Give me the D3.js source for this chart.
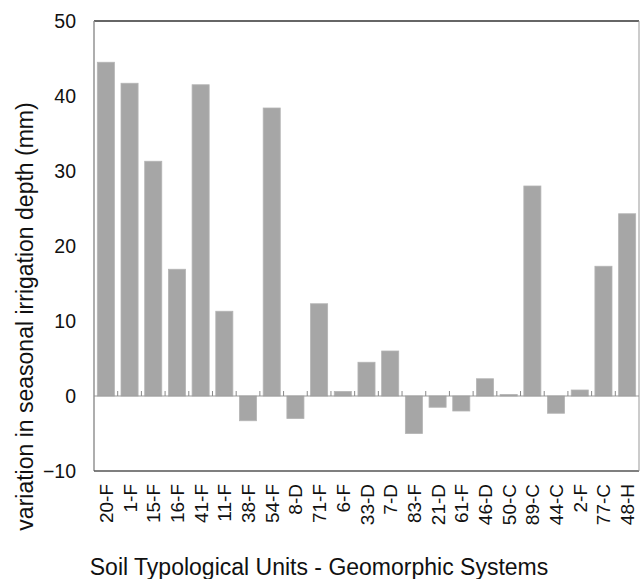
<!DOCTYPE html>
<html>
<head>
<meta charset="utf-8">
<script src="https://cdn.jsdelivr.net/npm/d3@7"></script>
<style>
  html, body { margin: 0; padding: 0; background: #fff; }
  svg { display: block; font-family: "Liberation Sans", Arial, sans-serif; }
</style>
</head>
<body>
<svg id="chart" width="640" height="579"></svg>
<script>
// Soil typological unit / geomorphic system codes
const categories = ["20-F","1-F","15-F","16-F","41-F","11-F","38-F","54-F","8-D","71-F","6-F","33-D","7-D","83-F","21-D","61-F","46-D","50-C","89-C","44-C","2-F","77-C","48-H"];
// Variation in seasonal irrigation depth (mm)
const values = [44.5, 41.7, 31.3, 16.9, 41.5, 11.3, -3.3, 38.4, -3.0, 12.3, 0.6, 4.5, 6.0, -5.0, -1.5, -2.0, 2.3, 0.2, 28.0, -2.3, 0.8, 17.3, 24.3];
const yTicks = [-10, 0, 10, 20, 30, 40, 50];

const svg = d3.select("#chart");
const plotL = 94, plotR = 639, plotT = 21, plotB = 471;

const x = d3.scaleBand().domain(categories).range([plotL, plotR]).paddingInner(0.28).paddingOuter(0.14);
const y = d3.scaleLinear().domain([-10, 50]).range([plotB, plotT]);

// bars
svg.append("g").selectAll("rect").data(values).join("rect")
  .attr("x", (d, i) => x(categories[i]))
  .attr("width", x.bandwidth())
  .attr("y", d => y(Math.max(0, d)))
  .attr("height", d => Math.abs(y(d) - y(0)))
  .attr("fill", "#a6a6a6")
  .attr("stroke", "#b4b4b4")
  .attr("stroke-width", 0.8);

// zero axis with category boundary ticks
const bounds = d3.range(categories.length + 1).map(i => plotL + i * (plotR - plotL) / categories.length);
svg.append("line")
  .attr("x1", plotL).attr("x2", plotR)
  .attr("y1", y(0)).attr("y2", y(0))
  .attr("stroke", "#9a9a9a").attr("stroke-width", 1.2);
svg.append("g").selectAll("line").data(bounds.slice(1, -1)).join("line")
  .attr("x1", d => d).attr("x2", d => d)
  .attr("y1", y(0) - 5).attr("y2", y(0))
  .attr("stroke", "#8a8a8a").attr("stroke-width", 1);

// frame
svg.append("line").attr("x1", plotL).attr("x2", plotR).attr("y1", plotT).attr("y2", plotT)
  .attr("stroke", "#333").attr("stroke-width", 1.6);
svg.append("line").attr("x1", plotL).attr("x2", plotL).attr("y1", plotT).attr("y2", plotB)
  .attr("stroke", "#8c8c8c").attr("stroke-width", 1.4);
svg.append("line").attr("x1", plotL).attr("x2", plotR).attr("y1", plotB).attr("y2", plotB)
  .attr("stroke", "#555").attr("stroke-width", 1.6);
svg.append("line").attr("x1", plotR).attr("x2", plotR).attr("y1", plotT).attr("y2", plotB)
  .attr("stroke", "#999").attr("stroke-width", 1);

// y tick labels
const yAxis = svg.append("g").attr("transform", `translate(${plotL},0)`)
  .call(d3.axisLeft(y).tickValues(yTicks).tickSize(0).tickPadding(18));
yAxis.select(".domain").remove();
yAxis.selectAll("text").attr("font-size", 19.5).attr("fill", "#111").attr("font-family", "Liberation Sans, Arial, sans-serif");

// x tick labels (rotated)
svg.append("g").selectAll("text").data(categories).join("text")
  .attr("transform", d => `translate(${x(d) + x.bandwidth() / 2 + 7},${plotB + 13}) rotate(-90)`)
  .attr("text-anchor", "end")
  .attr("font-size", 19)
  .attr("fill", "#111")
  .text(d => d);

// axis titles
svg.append("text")
  .attr("transform", `translate(33,316.5) rotate(-90)`)
  .attr("text-anchor", "middle")
  .attr("font-size", 23)
  .attr("fill", "#111")
  .text("variation in seasonal irrigation depth (mm)");

svg.append("text")
  .attr("x", 319).attr("y", 575)
  .attr("text-anchor", "middle")
  .attr("font-size", 23)
  .attr("fill", "#111")
  .text("Soil Typological Units - Geomorphic Systems");
</script>
</body>
</html>
